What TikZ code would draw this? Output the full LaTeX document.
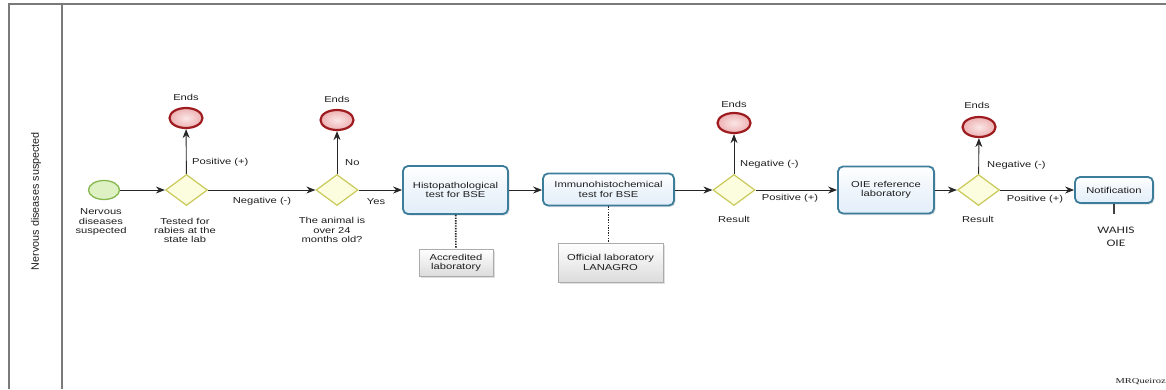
\documentclass[tikz,border=0pt]{standalone}
\usepackage{fontspec}
\setmainfont[FakeStretch=1.3]{Liberation Sans}
\newfontfamily\lanefont{Liberation Sans}
\newfontfamily\wahisfont[FakeStretch=1.35]{Carlito}
\newfontfamily\sigfont[FakeStretch=1.4]{Liberation Serif}
\usetikzlibrary{shapes.geometric,arrows.meta,shadows}
\definecolor{framec}{HTML}{7A7A7A}
\definecolor{startfill}{HTML}{DDF1C2}
\definecolor{startdraw}{HTML}{86B84E}
\definecolor{endin}{HTML}{FBE6E6}
\definecolor{endout}{HTML}{EDB0B2}
\definecolor{enddraw}{HTML}{9E1C1F}
\definecolor{gwfill}{HTML}{FCFCDE}
\definecolor{gwdraw}{HTML}{C9C95A}
\definecolor{taskfill}{HTML}{E3EEF9}
\definecolor{taskdraw}{HTML}{3C7D9C}
\definecolor{annfill}{HTML}{DCDCDC}
\definecolor{anndraw}{HTML}{ABABAB}
\definecolor{txt}{HTML}{1E1E1E}
\tikzset{
  lbl/.style={font=\fontsize{8.6}{9.4}\selectfont, text=txt, align=center, inner sep=0pt},
  startev/.style={ellipse, draw=startdraw, fill=startfill, line width=1.3pt, minimum width=31pt, minimum height=19pt, inner sep=0pt},
  endev/.style={ellipse, draw=enddraw, inner color=endin, outer color=endout, line width=2.2pt, minimum width=33pt, minimum height=20pt, inner sep=0pt},
  gw/.style={diamond, draw=gwdraw, fill=gwfill, line width=1.2pt, minimum width=42pt, minimum height=31pt, inner sep=0pt},
  task/.style={rectangle, rounded corners=5pt, draw=taskdraw, line width=1.8pt, top color=white, bottom color=taskfill, middle color=taskfill!60, font=\fontsize{8.6}{9.4}\selectfont, text=txt, align=center, inner sep=0pt, drop shadow={shadow xshift=1.5pt, shadow yshift=-1.5pt, opacity=0.25}},
  ann/.style={rectangle, draw=anndraw, line width=0.8pt, top color=white, bottom color=annfill, font=\fontsize{8.6}{9.4}\selectfont, text=txt, align=center, inner sep=0pt, drop shadow={shadow xshift=2pt, shadow yshift=-2pt, opacity=0.25}},
  flow/.style={draw=black!85, line width=0.9pt, -{Stealth[length=9pt,width=7pt]}},
  assoc/.style={draw=black!85, line width=1.7pt, dash pattern=on 1.4pt off 1.2pt},
  frame/.style={draw=framec, line width=1.5pt}
}
\begin{document}
\begin{tikzpicture}[x=1pt,y=-1pt]
\useasboundingbox (0,0) rectangle (1166,389);
% pool frame
\draw[frame] (1166,4) -- (9,4) -- (9,389);
\draw[frame] (62,4) -- (62,389);
\node[lbl, rotate=90, font=\lanefont\fontsize{10.8}{12}\selectfont] (lane) at (36,201) {Nervous diseases suspected};

% nodes
\node[startev] (start) at (104,190) {};
\node[lbl] (startlbl) at (101,222) {Nervous\\diseases\\suspected};

\node[gw] (g1) at (186.5,190) {};
\node[lbl] (g1lbl) at (185,230.5) {Tested for\\rabies at the\\state lab};
\node[endev] (e1) at (186,118) {};
\node[lbl] (e1lbl) at (186,97) {Ends};

\node[gw] (g2) at (337,190) {};
\node[lbl] (g2lbl) at (332,230) {The animal is\\over 24\\months old?};
\node[endev] (e2) at (337,120) {};
\node[lbl] (e2lbl) at (337,99) {Ends};

\node[task, minimum width=105pt, minimum height=48pt] (histo) at (455.5,190) {Histopathological\\test for BSE};
\node[ann, minimum width=74pt, minimum height=27pt] (accr) at (456,262.5) {Accredited\\laboratory};

\node[task, minimum width=131pt, minimum height=32pt] (immuno) at (608.5,189.5) {Immunohistochemical\\test for BSE};
\node[ann, minimum width=105pt, minimum height=39pt] (offl) at (610.5,262.5) {Official laboratory\\LANAGRO};

\node[gw] (g3) at (734,190) {};
\node[lbl] (g3lbl) at (734,219) {Result};
\node[endev] (e3) at (734,123) {};
\node[lbl] (e3lbl) at (734,104) {Ends};

\node[task, minimum width=96pt, minimum height=47pt] (oie) at (886,190) {OIE reference\\laboratory};

\node[gw] (g4) at (978.5,190) {};
\node[lbl] (g4lbl) at (978,219) {Result};
\node[endev] (e4) at (979,127) {};
\node[lbl] (e4lbl) at (977,105) {Ends};

\node[task, minimum width=78pt, minimum height=26pt] (notif) at (1114,190) {Notification};
\coordinate (notifend) at (1114,214);
\node[lbl, font=\wahisfont\fontsize{10}{13}\selectfont, text=black!85] (wahis) at (1116,236.5) {WAHIS\\OIE};

\node[lbl, anchor=east, font=\sigfont\fontsize{7.5}{9}\selectfont] (sig) at (1166,382) {MRQueiroz};

% connectors
\draw[flow] (start) -- (g1);
\draw[flow] (g1) -- (e1);
\node[lbl, anchor=west] (l1) at (192,162) {Positive (+)};
\draw[flow] (g1) -- (g2);
\node[lbl] (l2) at (262,201) {Negative (-)};
\draw[flow] (g2) -- (e2);
\node[lbl, anchor=west] (l3) at (345,163) {No};
\draw[flow] (g2) -- (histo);
\node[lbl] (l4) at (376,202) {Yes};
\draw[assoc] (histo) -- (accr);
\draw[flow] (histo) -- (immuno.west |- histo);
\draw[assoc] (immuno.south) -- (immuno.south |- offl.north);
\draw[flow] (immuno.east |- g3) -- (g3);
\draw[flow] (g3) -- (e3);
\node[lbl, anchor=west] (l5) at (740,164) {Negative (-)};
\draw[flow] (g3) -- (oie);
\node[lbl] (l6) at (790,198) {Positive (+)};
\draw[flow] (oie) -- (g4);
\draw[flow] (g4) -- (e4);
\node[lbl, anchor=west] (l7) at (987,165) {Negative (-)};
\draw[flow] (g4) -- (notif);
\node[lbl] (l8) at (1035,199) {Positive (+)};
\draw[draw=black!75, line width=1.2pt] (notif.south) -- (notifend);
\end{tikzpicture}
\end{document}
